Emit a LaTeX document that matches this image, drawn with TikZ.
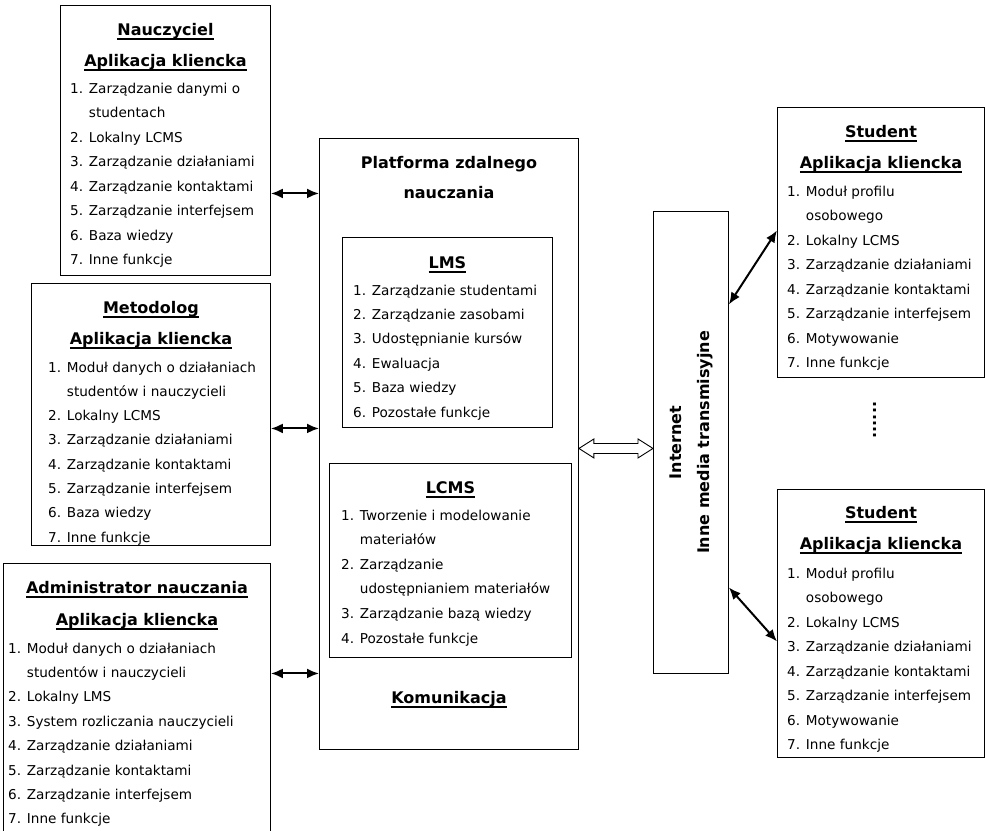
\documentclass[tikz,border=0pt]{standalone}
\usepackage{fontspec}
\setmainfont{DejaVu Sans}
\usetikzlibrary{calc,arrows.meta}

% bold heading with a thick rule under it
\newcommand{\hdr}[1]{{\bfseries\setbox0\hbox{#1}\rlap{\copy0}\rule[-4.5pt]{\wd0}{1.8pt}}}

\begin{document}
\begin{tikzpicture}[x=1pt,y=-1pt,
    box/.style={draw, line width=0.9pt, anchor=north west, inner sep=0pt},
    title/.style={anchor=base, inner sep=0pt, font=\fontsize{16}{19}\selectfont\bfseries},
    item/.style={anchor=base west, inner sep=0pt, font=\fontsize{13.6}{16}\selectfont},
    link/.style={line width=2pt, {Latex[length=12pt,width=10pt]}-{Latex[length=12pt,width=10pt]}},
    hollow/.style={draw, line width=0.9pt, fill=white}]

    \clip (0,0) rectangle (985,830);

    % boxes
    \node[box, minimum width=210pt, minimum height=270pt] (naucz) at (60,5) {};
    \node[box, minimum width=239pt, minimum height=262pt] (metod) at (31,283) {};
    \node[box, minimum width=267pt, minimum height=280pt] (admin) at (3,563) {};
    \node[box, minimum width=259pt, minimum height=611pt] (plat) at (319,138) {};
    \node[box, minimum width=210pt, minimum height=190pt] (lms) at (342,237) {};
    \node[box, minimum width=242pt, minimum height=194pt] (lcms) at (329,463) {};
    \node[box, minimum width=75pt, minimum height=462pt] (inet) at (653,211) {};
    \node[box, minimum width=207pt, minimum height=270pt] (stud1) at (777,107) {};
    \node[box, minimum width=207pt, minimum height=268pt] (stud2) at (777,489) {};

    % Nauczyciel
    \node[title] (naucz-t) at ($(naucz.north)+(0,30)$) {\hdr{Nauczyciel}};
    \node[title] (naucz-a) at ($(naucz.north)+(0,61)$) {\hdr{Aplikacja kliencka}};
    \foreach \txt [count=\i from 0] in {1. Zarządzanie danymi o, \hphantom{1. }studentach,
        2. Lokalny LCMS, 3. Zarządzanie działaniami, 4. Zarządzanie kontaktami,
        5. Zarządzanie interfejsem, 6. Baza wiedzy, 7. Inne funkcje}
      \node[item] (naucz-\i) at ($(naucz.north west)+(10,88+24.5*\i)$) {\txt};

    % Metodolog
    \node[title] (metod-t) at ($(metod.north)+(0,30)$) {\hdr{Metodolog}};
    \node[title] (metod-a) at ($(metod.north)+(0,61)$) {\hdr{Aplikacja kliencka}};
    \foreach \txt [count=\i from 0] in {1. Moduł danych o działaniach, \hphantom{1. }studentów i nauczycieli,
        2. Lokalny LCMS, 3. Zarządzanie działaniami, 4. Zarządzanie kontaktami,
        5. Zarządzanie interfejsem, 6. Baza wiedzy, 7. Inne funkcje}
      \node[item] (metod-\i) at ($(metod.north west)+(17,89+24.3*\i)$) {\txt};

    % Administrator
    \node[title] (admin-t) at ($(admin.north)+(0,30)$) {\hdr{Administrator nauczania}};
    \node[title] (admin-a) at ($(admin.north)+(0,62)$) {\hdr{Aplikacja kliencka}};
    \foreach \txt [count=\i from 0] in {1. Moduł danych o działaniach, \hphantom{1. }studentów i nauczycieli,
        2. Lokalny LMS, 3. System rozliczania nauczycieli, 4. Zarządzanie działaniami,
        5. Zarządzanie kontaktami, 6. Zarządzanie interfejsem, 7. Inne funkcje}
      \node[item] (admin-\i) at ($(admin.north west)+(5,90+24.4*\i)$) {\txt};

    % platforma
    \node[title] (plat-t1) at ($(plat.north)+(0,30)$) {Platforma zdalnego};
    \node[title] (plat-t2) at ($(plat.north)+(0,60)$) {nauczania};
    \node[title] (lms-t) at ($(lms.north)+(0,31)$) {\hdr{LMS}};
    \foreach \txt [count=\i from 0] in {1. Zarządzanie studentami, 2. Zarządzanie zasobami,
        3. Udostępnianie kursów, 4. Ewaluacja, 5. Baza wiedzy, 6. Pozostałe funkcje}
      \node[item] (lms-\i) at ($(lms.north west)+(11,58+24.4*\i)$) {\txt};
    \node[title] (lcms-t) at ($(lcms.north)+(0,30)$) {\hdr{LCMS}};
    \foreach \txt [count=\i from 0] in {1. Tworzenie i modelowanie, \hphantom{1. }materiałów,
        2. Zarządzanie, \hphantom{1. }udostępnianiem materiałów, 3. Zarządzanie bazą wiedzy,
        4. Pozostałe funkcje}
      \node[item] (lcms-\i) at ($(lcms.north west)+(12,57+24.6*\i)$) {\txt};
    \node[title] (komun) at ($(plat.north)+(0,565)$) {\hdr{Komunikacja}};

    % internet
    \node[rotate=90, align=center, inner sep=0pt, font=\fontsize{16}{28}\selectfont\bfseries]
      (inet-t) at (inet.center) {Internet\\Inne media transmisyjne};

    % studenci
    \foreach \s/\dy in {stud1/0, stud2/-1} {
      \node[title] (\s-t) at ($(\s.north)+(0,30+\dy)$) {\hdr{Student}};
      \node[title] (\s-a) at ($(\s.north)+(0,61+\dy)$) {\hdr{Aplikacja kliencka}};
      \foreach \txt [count=\i from 0] in {1. Moduł profilu, \hphantom{1. }osobowego,
          2. Lokalny LCMS, 3. Zarządzanie działaniami, 4. Zarządzanie kontaktami,
          5. Zarządzanie interfejsem, 6. Motywowanie, 7. Inne funkcje}
        \node[item] (\s-\i) at ($(\s.north west)+(10,89+24.5*\i)$) {\txt};
    }
    \node[rotate=90, inner sep=0pt, font=\fontsize{16}{19}\selectfont\bfseries] (dots) at (875,420) {......};

    % polaczenia
    \draw[link] ([yshift=-53pt]naucz.east) -- ([yshift=-53pt]naucz.east -| plat.west);
    \draw[link] ([yshift=-14pt]metod.east) -- ([yshift=-14pt]metod.east -| plat.west);
    \draw[link] ([yshift=30pt]admin.east) -- ([yshift=30pt]admin.east -| plat.west);
    \draw[link] ([yshift=138pt]inet.east) -- ([yshift=12pt]stud1.west);
    \draw[link] ([yshift=-145pt]inet.east) -- ([yshift=-18pt]stud2.west);

    \coordinate (ha) at ($(plat.east)+(0,4.5)$);
    \coordinate (hb) at ($(inet.west)+(0,6)$);
    \draw[hollow] (ha) -- ++(15,-9.5) -- ++(0,4.5) -- ($(hb)+(-15,-5)$) -- ++(0,-4.5) -- (hb)
      -- ++(-15,9.5) -- ++(0,-4.5) -- ($(ha)+(15,5)$) -- ++(0,4.5) -- cycle;
\end{tikzpicture}
\end{document}
